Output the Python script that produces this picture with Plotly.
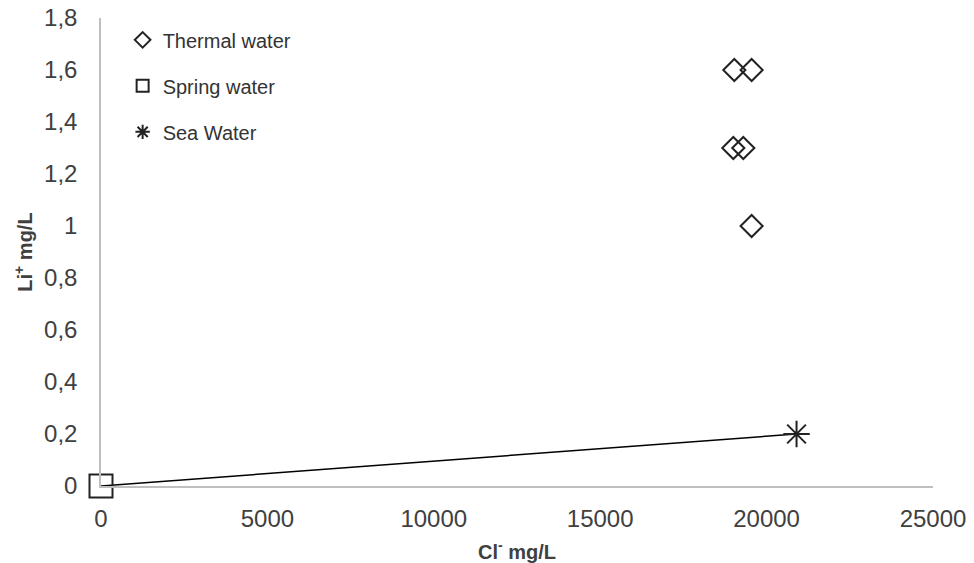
import plotly.graph_objects as go

# Data
thermal_cl = [19030, 19550, 19000, 19300, 19550]
thermal_li = [1.6, 1.6, 1.3, 1.3, 1.0]
spring_cl = [0]
spring_li = [0]
sea_cl = [20900]
sea_li = [0.2]
mix_cl = [0, 20900]
mix_li = [0, 0.2]

x_ticks = [0, 5000, 10000, 15000, 20000, 25000]
x_ticktext = ["0", "5000", "10000", "15000", "20000", "25000"]
y_ticks = [0, 0.2, 0.4, 0.6, 0.8, 1.0, 1.2, 1.4, 1.6, 1.8]
y_ticktext = ["0", "0,2", "0,4", "0,6", "0,8", "1", "1,2", "1,4", "1,6", "1,8"]

fig = go.Figure()
fig.add_trace(go.Scatter(x=mix_cl, y=mix_li, mode="lines", line=dict(color="black", width=1.5),
                         showlegend=False, hoverinfo="skip", cliponaxis=False))
fig.add_trace(go.Scatter(x=thermal_cl, y=thermal_li, mode="markers", name="Thermal water",
                         legendgroup="a", cliponaxis=False,
                         marker=dict(symbol="diamond-open", size=17, color="#222222", line=dict(width=2))))
fig.add_trace(go.Scatter(x=spring_cl, y=spring_li, mode="markers", name="Spring water",
                         legendgroup="b", cliponaxis=False,
                         marker=dict(symbol="square-open", size=23, color="#222222", line=dict(width=2))))
fig.add_trace(go.Scatter(x=sea_cl, y=sea_li, mode="markers", name="Sea Water",
                         legendgroup="c", cliponaxis=False,
                         marker=dict(symbol="asterisk-open", size=22, color="#222222", line=dict(width=2, color="#222222"))))

# page body has an 8px margin; plot area placed so it lands where the reference's is
fig.update_layout(
    width=974, height=563,
    margin=dict(l=93, r=49, t=10, b=85),
    paper_bgcolor="white", plot_bgcolor="white",
    font=dict(family="Liberation Sans, Arial, sans-serif", color="#404040"),
    legend=dict(x=0.026, y=0.995, xanchor="left", yanchor="top", bgcolor="rgba(0,0,0,0)",
                font=dict(size=20, color="#333333"), tracegroupgap=17, itemsizing="constant",
                itemwidth=30),
    xaxis=dict(range=[0, 25000], tickvals=x_ticks, ticktext=x_ticktext, showgrid=False,
               zeroline=False, showline=True, linecolor="#bfbfbf", linewidth=1.5, automargin=False,
               ticks="", ticklabelstandoff=10, ticklabeloverflow="allow",
               tickfont=dict(size=24, color="#404040"),
               title=dict(text="<b>Cl<sup>-</sup> mg/L</b>", font=dict(size=20, color="#404040"), standoff=14)),
    yaxis=dict(range=[0, 1.8], tickvals=y_ticks, ticktext=y_ticktext, showgrid=False,
               zeroline=False, showline=True, linecolor="#bfbfbf", linewidth=1.5, automargin=False,
               ticks="", ticklabelstandoff=17, ticklabeloverflow="allow",
               tickfont=dict(size=24, color="#404040"),
               title=dict(text="<b>Li<sup>+</sup> mg/L</b>", font=dict(size=20, color="#404040"), standoff=6)),
    showlegend=True,
)

fig.write_html("out.html")
